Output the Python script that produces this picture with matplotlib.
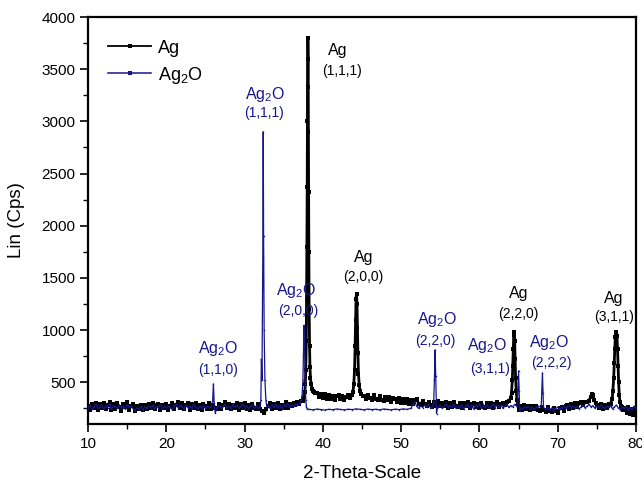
import numpy as np
import matplotlib
matplotlib.use('Agg')
import matplotlib.pyplot as plt
from matplotlib.ticker import MultipleLocator
from matplotlib.lines import Line2D

plt.rcParams['font.family'] = ['Liberation Sans', 'DejaVu Sans']
plt.rcParams['mathtext.fontset'] = 'custom'
plt.rcParams['mathtext.rm'] = 'Liberation Sans'
plt.rcParams['mathtext.it'] = 'Liberation Sans'
plt.rcParams['mathtext.default'] = 'regular'


def grid(a, b, step=0.25):
    """2-theta sampling grid of one scan segment (inclusive)."""
    n = int(round((b - a) / step)) + 1
    return list(np.round(a + step * np.arange(n), 3))


# ---------------- Ag (black) ----------------
ag_seg1_y = [272, 238, 295, 249, 306, 231, 287, 253,
             300, 242, 278, 311, 234, 289, 248, 297,
             263, 229, 291, 260, 308, 237, 276, 294,
             228, 272, 239, 285, 231, 278, 246, 292,
             254, 302, 241, 280, 296, 235, 282, 249,
             291, 233, 276, 305, 247, 286, 312, 251,
             297, 244, 281, 306, 238, 289, 253, 300,
             246, 284, 233, 291, 277, 242, 299, 248,
             286, 252, 239, 293, 245, 281, 308, 254,
             295, 241, 283, 250, 304, 237, 288, 256,
             299, 246, 282, 233, 291, 254, 242, 296,
             248, 227, 205, 239, 276, 298, 243, 289,
             252, 301, 245, 284, 258, 307, 249, 293,
             271, 298, 279, 312, 294, 325]
ag_p1_x = [37.4, 37.5, 37.6, 37.7, 37.76, 37.82, 37.88, 37.92, 37.96, 38.0,
           38.03, 38.06, 38.09, 38.12, 38.15, 38.18, 38.21, 38.25, 38.3, 38.35,
           38.42, 38.5, 38.6, 38.7, 38.85, 39.0]
ag_p1_y = [322, 335, 360, 410, 480, 620, 900, 1300, 1800, 2370,
           3000, 3330, 3800, 3600, 2900, 2320, 1750, 1200, 850, 650,
           540, 480, 440, 420, 405, 395]
ag_seg2_y = [398, 362, 391, 350, 386, 342, 378, 339,
             372, 334, 368, 381, 337, 366, 328, 362, 375, 349]
ag_p2_x = [43.7, 43.85, 43.95, 44.05, 44.12, 44.18, 44.24, 44.3, 44.36, 44.42,
           44.48, 44.55, 44.65, 44.75, 44.9, 45.1]
ag_p2_y = [375, 410, 480, 620, 850, 1100, 1300, 1350, 1250, 1020,
           780, 580, 470, 420, 390, 370]
ag_seg3_y = [372, 338, 381, 345, 333, 376, 341, 328,
             367, 332, 319, 361, 326, 358, 312, 350,
             341, 308, 347, 299, 336, 304, 342, 295,
             331, 288, 326, 341, 292, 279, 322, 287,
             274, 315, 281, 266, 310, 276, 320, 269,
             306, 271, 314, 258, 300, 267, 309, 275,
             261, 304, 252, 298, 269, 307, 256, 293,
             301, 260, 296, 254, 305, 266, 252, 298,
             264, 302, 258, 291, 307, 261, 296, 303,
             282, 309, 318, 352]
ag_p3_x = [64.1, 64.2, 64.26, 64.32, 64.38, 64.44, 64.5, 64.56, 64.62, 64.7,
           64.8, 64.9, 65.0]
ag_p3_y = [400, 520, 660, 820, 950, 985, 900, 720, 540, 420,
           330, 290, 235]
ag_seg4_y = [272, 238, 281, 245, 276, 233, 269, 241,
             274, 236, 228, 267, 231, 219, 260, 226,
             212, 254, 221, 205, 249, 262, 227, 270,
             281, 246, 293, 256, 302, 265, 298, 311,
             284, 307, 310, 325]
ag_p4_x = [74.2, 74.35, 74.5, 74.65, 74.85, 75.0, 75.25, 75.5, 75.75, 76.0,
           76.25, 76.5, 76.75, 76.95]
ag_p4_y = [360, 385, 380, 330, 298, 281, 256, 289, 248, 281,
           252, 294, 295, 340]
ag_p5_x = [77.05, 77.15, 77.22, 77.29, 77.36, 77.43, 77.5, 77.57, 77.64, 77.71,
           77.78, 77.86, 77.95, 78.05, 78.2, 78.4, 78.6, 78.8, 79.0, 79.2,
           79.4, 79.6, 79.8, 80.0]
ag_p5_y = [420, 540, 680, 820, 930, 975, 985, 940, 820, 660,
           500, 380, 310, 275, 260, 238, 255, 208, 262, 195,
           248, 186, 241, 200]

# ---------------- Ag2O (blue) ----------------
ox_seg1_y = [255, 278, 243, 266, 291, 249, 262, 284,
             247, 270, 258, 289, 241, 275, 263, 252,
             281, 256, 268, 244, 286, 259, 273, 248,
             229, 257, 243, 268, 236, 262, 251, 274,
             258, 280, 245, 269, 253, 288, 247, 266,
             252, 276, 260, 239, 271, 290, 255, 282,
             264, 246, 283, 258, 272, 249, 286, 261,
             243, 268, 255, 279, 247, 271, 258, 262]
ox_p1_x = [25.92, 26.02, 26.12, 26.25]
ox_p1_y = [320, 485, 300, 205]
ox_seg2_y = [258, 276, 249, 268, 284, 252, 271, 245, 287, 262, 278,
             251, 266, 289, 257, 274, 246, 269, 283, 255, 272, 248]
ox_p2_x = [32.0, 32.08, 32.15, 32.22, 32.33, 32.38, 32.43, 32.5, 32.6, 32.72,
           32.85]
ox_p2_y = [265, 330, 720, 520, 1700, 2900, 1900, 1000, 520, 330,
           262]
ox_seg3_y = [275, 251, 283, 262, 290, 258, 279, 247, 286, 268, 294,
             261, 282, 270, 296, 278, 289]
ox_p3_x = [37.1, 37.25, 37.35, 37.45, 37.52, 37.58, 37.64, 37.7, 37.76, 37.82,
           37.9, 38.0]
ox_p3_y = [300, 330, 380, 520, 760, 1045, 950, 700, 480, 330,
           265, 245]
ox_seg4_y = [240, 236, 243, 238, 234, 241, 237, 244, 239, 235, 242, 238, 245,
             240, 236, 243, 238, 241, 235, 244, 239, 236, 242, 238, 245, 240, 250]
ox_seg5_y = [285, 312, 268, 249, 276, 258, 283, 262, 290, 255, 271]
ox_p4_x = [54.15, 54.25, 54.33, 54.42, 54.52, 54.6]
ox_p4_y = [300, 520, 810, 560, 200, 250]
ox_seg6_y = [262, 281, 249, 270, 292, 256, 277, 264,
             288, 251, 273, 259, 284, 247, 269, 290,
             258, 276, 244, 281, 266, 293, 254, 272,
             261, 285, 249, 270, 292, 257, 279, 263,
             284, 251, 272, 290, 259, 277, 265, 288,
             270]
ox_p5_x = [64.85, 64.93, 65.0, 65.07, 65.15]
ox_p5_y = [290, 450, 610, 420, 220]
ox_seg7_y = [255, 241, 268, 252, 274, 246, 263, 238, 259, 271, 266]
ox_p6_x = [67.9, 67.98, 68.05, 68.12, 68.2]
ox_p6_y = [280, 440, 590, 400, 250]
ox_seg8_y = [243, 261, 236, 255, 229, 248, 262, 240,
             257, 271, 249, 266, 281, 258, 273, 252,
             268, 247, 263, 279, 255, 270, 288, 264,
             276, 251, 269, 258, 283, 262, 248, 271,
             259, 274, 245, 266, 281, 253, 238, 262,
             249, 267, 236, 258, 244, 271, 252]

ag_x = (grid(10.0, 37.25) + ag_p1_x + grid(39.25, 43.5) + ag_p2_x +
        grid(45.25, 64.0) + ag_p3_x + grid(65.25, 74.0) + ag_p4_x + ag_p5_x)
ag_y = (ag_seg1_y + ag_p1_y + ag_seg2_y + ag_p2_y + ag_seg3_y + ag_p3_y +
        ag_seg4_y + ag_p4_y + ag_p5_y)
ox_x = (grid(10.0, 25.75) + ox_p1_x + grid(26.5, 31.75) + ox_p2_x +
        grid(33.0, 37.0) + ox_p3_x + grid(38.25, 51.25, 0.5) + grid(51.5, 54.0) +
        ox_p4_x + grid(54.75, 64.75) + ox_p5_x + grid(65.25, 67.75) + ox_p6_x +
        grid(68.5, 80.0))
ox_y = (ox_seg1_y + ox_p1_y + ox_seg2_y + ox_p2_y + ox_seg3_y + ox_p3_y +
        ox_seg4_y + ox_seg5_y + ox_p4_y + ox_seg6_y + ox_p5_y + ox_seg7_y +
        ox_p6_y + ox_seg8_y)
assert len(ag_x) == len(ag_y), (len(ag_x), len(ag_y))
assert len(ox_x) == len(ox_y), (len(ox_x), len(ox_y))

x_ticks = [10, 20, 30, 40, 50, 60, 70, 80]
y_ticks = [500, 1000, 1500, 2000, 2500, 3000, 3500, 4000]

BLUE = '#16168c'
OX = r'Ag$_2$O'

fig = plt.figure(figsize=(6.42, 4.87), dpi=100)
ax = fig.add_axes([88 / 642, 1 - 424 / 487, 548 / 642, 407 / 487])

ax.plot(ag_x, ag_y, color='black', lw=2.0, marker='s', ms=3.0, mew=0,
        zorder=2)
ax.plot(ox_x, ox_y, color=BLUE, lw=0.9, marker='s', ms=1.0, mew=0,
        zorder=3)

ax.set_xlim(10, 80)
ax.set_ylim(100, 4000)
ax.set_xticks(x_ticks)
ax.set_yticks(y_ticks)
ax.xaxis.set_minor_locator(MultipleLocator(5))
ax.yaxis.set_minor_locator(MultipleLocator(250))
ax.tick_params(which='major', direction='out', length=6, width=1.2,
               labelsize=11, pad=3)
ax.tick_params(which='minor', direction='out', length=3.5, width=1.0)
for s in ax.spines.values():
    s.set_linewidth(1.6)

ax.set_xlabel('2-Theta-Scale', fontsize=13.5)
ax.set_ylabel('Lin (Cps)', fontsize=13.5)
ax.xaxis.set_label_coords(0.5, -0.1)
ax.yaxis.set_label_coords(-0.115, 0.5)

handles = [Line2D([], [], color='black', lw=1.3, marker='s', ms=3.0, mew=0),
           Line2D([], [], color=BLUE, lw=1.1, marker='s', ms=2.6, mew=0)]
leg = ax.legend(handles, ['Ag', OX], loc='upper left',
                bbox_to_anchor=(0.024, 0.962), frameon=False,
                fontsize=13, handlelength=2.35, handletextpad=0.4,
                labelspacing=0.45, borderaxespad=0, numpoints=1)

# peak labels: (name, hkl, colour, name x/y, hkl x/y)
labels = [
    ('Ag', '(1,1,1)', 'black', 41.87, 3633, 42.41, 3442),
    (OX, '(1,1,1)', BLUE, 32.61, 3219, 32.44, 3037),
    (OX, '(2,0,0)', BLUE, 36.57, 1336, 36.82, 1144),
    ('Ag', '(2,0,0)', 'black', 45.26, 1655, 45.13, 1473),
    (OX, '(1,1,0)', BLUE, 26.61, 778, 26.58, 579),
    (OX, '(2,2,0)', BLUE, 54.64, 1063, 54.32, 857),
    (OX, '(3,1,1)', BLUE, 61.03, 809, 61.35, 592),
    ('Ag', '(2,2,0)', 'black', 65.05, 1310, 64.93, 1118),
    (OX, '(2,2,2)', BLUE, 68.89, 841, 69.23, 644),
    ('Ag', '(3,1,1)', 'black', 77.19, 1256, 77.19, 1090),
]
for name, hkl, col, nx, ny, hx, hy in labels:
    ax.text(nx, ny, name, color=col, fontsize=11.5, ha='center', va='baseline')
    ax.text(hx, hy, hkl, color=col, fontsize=10, ha='center', va='baseline')

fig.savefig('out.png', dpi=100)
